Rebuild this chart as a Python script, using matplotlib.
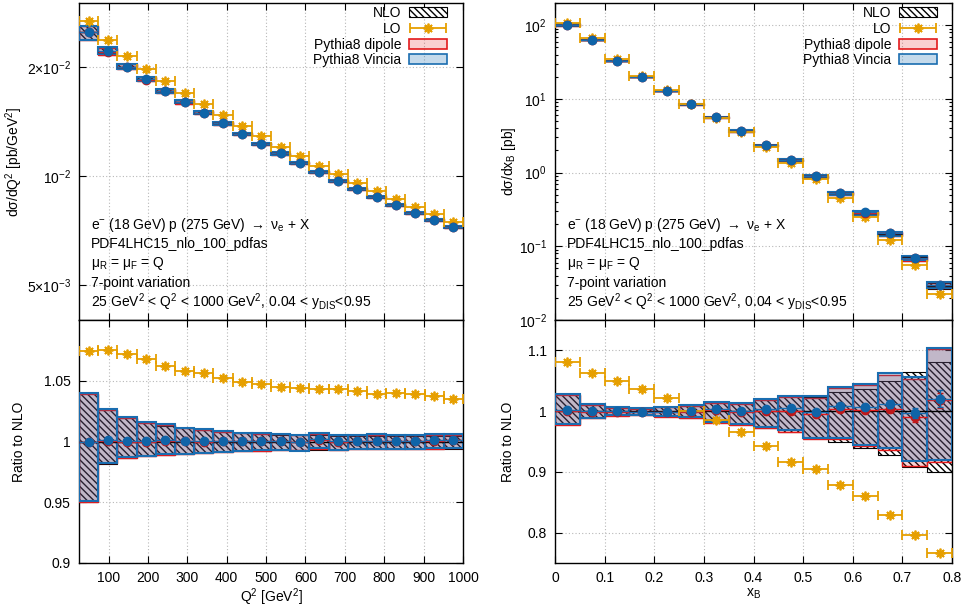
import numpy as np
import matplotlib
matplotlib.use('Agg')
import matplotlib.pyplot as plt
from matplotlib.patches import Patch
from matplotlib.colors import to_rgba
from matplotlib.legend_handler import HandlerErrorbar
from matplotlib.ticker import FixedLocator, FixedFormatter, NullLocator, LogLocator, NullFormatter

plt.rcParams['font.family'] = ['Liberation Sans', 'DejaVu Sans']
plt.rcParams['font.size'] = 10
plt.rcParams['mathtext.fontset'] = 'custom'
plt.rcParams['mathtext.rm'] = 'Liberation Sans'
plt.rcParams['mathtext.it'] = 'Liberation Sans:italic'
plt.rcParams['mathtext.default'] = 'regular'
plt.rcParams['hatch.linewidth'] = 1.0

# ---- Q^2 distribution (20 bins, 25..1000 GeV^2) ----
q2_edges = np.linspace(25, 1000, 21)
nlo_q2 = np.array([0.02490, 0.02202, 0.02000, 0.01845, 0.01716, 0.01600, 0.01491, 0.01396,
                   0.01307, 0.01227, 0.01153, 0.01086, 0.01023, 0.00970, 0.00920, 0.00873,
                   0.00831, 0.00791, 0.00755, 0.00722])
nlo_hi_q2 = np.array([1.040, 1.026, 1.0195, 1.0155, 1.013, 1.011, 1.0098, 1.0080, 1.0068, 1.0062,
                      1.0056, 1.0052, 1.0050, 1.0049, 1.0048, 1.0047, 1.0046, 1.0045, 1.0045, 1.0044])
nlo_lo_q2 = np.array([0.950, 0.9815, 0.9865, 0.9880, 0.9888, 0.9897, 0.9905, 0.9912, 0.9918, 0.9924,
                      0.9928, 0.9930, 0.9932, 0.9934, 0.9936, 0.9937, 0.9938, 0.9939, 0.9940, 0.9940])
lo_q2 = np.array([1.0744, 1.0752, 1.0717, 1.0676, 1.0621, 1.0582, 1.0561, 1.0520, 1.0492, 1.0471,
                  1.0449, 1.0440, 1.0434, 1.0432, 1.0413, 1.0389, 1.0397, 1.0389, 1.0377, 1.0348])
vin_q2 = np.array([1.000, 1.001, 1.0005, 1.0002, 1.001, 1.0006, 1.0004, 1.0008, 1.0008, 1.0005,
                   1.0008, 0.9995, 1.0022, 1.0002, 1.0005, 1.0008, 1.0008, 1.0004, 1.0012, 1.0016])
vin_hi_q2 = np.array([1.040, 1.027, 1.020, 1.016, 1.014, 1.0115, 1.010, 1.0085, 1.0072, 1.0068,
                      1.0062, 1.0050, 1.0072, 1.0052, 1.0056, 1.0058, 1.0056, 1.0052, 1.0060, 1.0064])
vin_lo_q2 = np.array([0.951, 0.9825, 0.987, 0.988, 0.9895, 0.990, 0.9908, 0.9915, 0.992, 0.9926,
                      0.993, 0.9925, 0.9945, 0.993, 0.9935, 0.994, 0.994, 0.9938, 0.9945, 0.995])
dip_q2 = np.array([1.000, 1.0005, 1.000, 0.9998, 1.0005, 1.0002, 1.000, 1.0004, 1.0005, 1.0002,
                   1.0006, 0.9998, 1.001, 1.000, 1.0003, 1.0005, 1.0005, 1.0002, 1.0008, 1.001])
dip_hi_q2 = np.array([1.0395, 1.0262, 1.0196, 1.0155, 1.0132, 1.0111, 1.0098, 1.0082, 1.007, 1.0063,
                      1.0058, 1.0052, 1.006, 1.005, 1.0052, 1.0053, 1.0052, 1.005, 1.0055, 1.0056])
dip_lo_q2 = np.array([0.9505, 0.982, 0.9866, 0.9879, 0.989, 0.9898, 0.9905, 0.9914, 0.992, 0.9925,
                      0.993, 0.9928, 0.994, 0.9932, 0.9936, 0.9938, 0.9939, 0.9938, 0.9942, 0.9945])
vin_err_q2 = np.full(20, 0.0006)
dip_err_q2 = np.full(20, 0.0006)

# ---- x_B distribution (16 bins, 0..0.8) ----
xb_edges = np.linspace(0.0, 0.8, 17)
nlo_xb = np.array([100, 63.2, 32.9, 20.0, 12.9, 8.43, 5.62, 3.68, 2.35, 1.47, 0.893, 0.522,
                   0.286, 0.149, 0.0705, 0.0293])
nlo_hi_xb = np.array([1.028, 1.010, 1.0055, 1.005, 1.0065, 1.008, 1.014, 1.013, 1.019, 1.025,
                      1.0235, 1.031, 1.0365, 1.049, 1.0636, 1.081])
nlo_lo_xb = np.array([0.978, 0.9886, 0.993, 0.994, 0.9915, 0.989, 0.982, 0.978, 0.973, 0.9658,
                      0.955, 0.949, 0.9386, 0.9277, 0.908, 0.9005])
lo_xb = np.array([1.0816, 1.062, 1.049, 1.0365, 1.0218, 1.001, 0.985, 0.9653, 0.9424, 0.9168,
                  0.9054, 0.8783, 0.8603, 0.8282, 0.7961, 0.7667])
vin_xb = np.array([1.002, 1.000, 1.000, 0.999, 0.998, 1.000, 1.004, 1.000, 1.004, 1.005,
                   0.998, 1.008, 1.006, 1.012, 0.997, 1.020])
vin_hi_xb = np.array([1.029, 1.011, 1.006, 1.005, 1.0065, 1.0093, 1.0147, 1.0137, 1.020, 1.0256,
                      1.0245, 1.040, 1.0447, 1.062, 1.0555, 1.104])
vin_lo_xb = np.array([0.978, 0.989, 0.993, 0.994, 0.992, 0.990, 0.982, 0.978, 0.974, 0.9696,
                      0.956, 0.956, 0.944, 0.9386, 0.918, 0.9196])
dip_xb = np.array([1.000, 0.999, 0.999, 0.999, 0.998, 0.999, 1.002, 0.999, 1.000, 1.000,
                   0.996, 1.0035, 1.002, 1.004, 0.991, 1.0175])
dip_hi_xb = np.array([1.027, 1.010, 1.005, 1.004, 1.006, 1.009, 1.013, 1.012, 1.018, 1.023,
                      1.022, 1.038, 1.043, 1.060, 1.053, 1.102])
dip_lo_xb = np.array([0.977, 0.988, 0.992, 0.993, 0.991, 0.989, 0.981, 0.977, 0.972, 0.966,
                      0.954, 0.954, 0.942, 0.936, 0.9098, 0.917])
vin_err_xb = np.array([0.001, 0.001, 0.001, 0.001, 0.001, 0.001, 0.001, 0.001, 0.001, 0.002,
                       0.002, 0.003, 0.004, 0.007, 0.008, 0.014])
dip_err_xb = np.array([0.001, 0.001, 0.001, 0.001, 0.001, 0.001, 0.001, 0.001, 0.001, 0.002,
                       0.002, 0.003, 0.004, 0.006, 0.009, 0.012])

info_lines = [r"e$^{-}$ (18 GeV) p (275 GeV) $\rightarrow$ ν$_e$ + X",
              "PDF4LHC15_nlo_100_pdfas",
              r"μ$_R$ = μ$_F$ = Q",
              "7-point variation",
              r"25 GeV$^2$ < Q$^2$ < 1000 GeV$^2$, 0.04 < y$_{DIS}$<0.95"]

RED = '#e31a1c'
BLUE = '#1a6db0'
PTBLUE = '#0f64a8'
ORANGE = '#e69f00'
HATCH = '\\' * 5


def draw(ax, edges, base, d):
    left = edges[:-1]
    w = np.diff(edges)
    xc = left + w / 2
    right = edges[1:]
    # NLO hatched scale band
    ax.bar(left, base * (d['nlo_hi'] - d['nlo_lo']), bottom=base * d['nlo_lo'], width=w,
           align='edge', facecolor='none', edgecolor='black', hatch=HATCH, lw=0.8, zorder=2)
    # Pythia bands
    ax.bar(left, base * (d['dip_hi'] - d['dip_lo']), bottom=base * d['dip_lo'], width=w,
           align='edge', facecolor=to_rgba(RED, 0.2), edgecolor=RED, lw=1.0, zorder=3)
    ax.bar(left, base * (d['vin_hi'] - d['vin_lo']), bottom=base * d['vin_lo'], width=w,
           align='edge', facecolor=to_rgba(BLUE, 0.25), edgecolor=BLUE, lw=1.5, zorder=4)
    ax.hlines(base, left, right, color='black', lw=1.0, zorder=5)
    ax.hlines(base * d['dip'], left, right, color=RED, lw=1.0, zorder=5)
    ax.hlines(base * d['vin'], left, right, color=BLUE, lw=1.0, zorder=5)
    lo = ax.errorbar(xc, base * d['lo'], xerr=w / 2, linestyle='none', marker=(8, 2, 0), ms=7,
                     mew=1.3, color=ORANGE, ecolor=ORANGE, elinewidth=1.3, capsize=3.5, zorder=6)
    ax.errorbar(xc, base * d['dip'], yerr=base * d['dip_err'], fmt='o', ms=6, color='#c0181a',
                elinewidth=1.0, capsize=2.5, zorder=7)
    ax.errorbar(xc, base * d['vin'], yerr=base * d['vin_err'], fmt='o', ms=6, color=PTBLUE,
                elinewidth=1.0, capsize=2.5, zorder=8)
    return lo


def style(ax):
    ax.set_axisbelow(True)
    ax.grid(True, which='major', color='#b8b8b8', linestyle=(0, (1, 2)), linewidth=0.8)
    ax.tick_params(which='both', direction='in', top=True, right=True, width=0.8)
    ax.tick_params(which='major', length=5, pad=6)
    ax.tick_params(which='minor', length=2.5)
    for s in ax.spines.values():
        s.set_linewidth(1.0)


fig = plt.figure(figsize=(9.67, 6.08), dpi=100)
ax_tl = fig.add_axes([79 / 967, 288 / 608, 384 / 967, 317 / 608])
ax_bl = fig.add_axes([79 / 967, 45 / 608, 384 / 967, 243 / 608])
ax_tr = fig.add_axes([555 / 967, 288 / 608, 397 / 967, 317 / 608])
ax_br = fig.add_axes([555 / 967, 45 / 608, 397 / 967, 243 / 608])

q2 = dict(nlo_hi=nlo_hi_q2, nlo_lo=nlo_lo_q2, lo=lo_q2, vin=vin_q2, vin_hi=vin_hi_q2,
          vin_lo=vin_lo_q2, dip=dip_q2, dip_hi=dip_hi_q2, dip_lo=dip_lo_q2,
          vin_err=vin_err_q2, dip_err=dip_err_q2)
xb = dict(nlo_hi=nlo_hi_xb, nlo_lo=nlo_lo_xb, lo=lo_xb, vin=vin_xb, vin_hi=vin_hi_xb,
          vin_lo=vin_lo_xb, dip=dip_xb, dip_hi=dip_hi_xb, dip_lo=dip_lo_xb,
          vin_err=vin_err_xb, dip_err=dip_err_xb)

lo_tl = draw(ax_tl, q2_edges, nlo_q2, q2)
draw(ax_bl, q2_edges, np.ones(20), q2)
lo_tr = draw(ax_tr, xb_edges, nlo_xb, xb)
draw(ax_br, xb_edges, np.ones(16), xb)

for ax in (ax_tl, ax_bl, ax_tr, ax_br):
    style(ax)

# Q^2 panels
for ax in (ax_tl, ax_bl):
    ax.set_xlim(25, 1000)
    ax.xaxis.set_major_locator(FixedLocator(np.arange(100, 1001, 100)))
ax_tl.set_yscale('log')
ax_tl.set_ylim(4e-3, 3e-2)
ax_tl.yaxis.set_major_locator(FixedLocator([5e-3, 1e-2, 2e-2]))
ax_tl.yaxis.set_major_formatter(FixedFormatter([r"5×10$^{-3}$", r"10$^{-2}$", r"2×10$^{-2}$"]))
ax_tl.yaxis.set_minor_locator(NullLocator())
ax_tl.tick_params(labelbottom=False)
ax_tl.set_ylabel(r"dσ/dQ$^2$ [pb/GeV$^2$]")
ax_tl.yaxis.set_label_coords(-0.141, 0.5)

ax_bl.set_ylim(0.9, 1.1)
ax_bl.yaxis.set_major_locator(FixedLocator([0.9, 0.95, 1.0, 1.05]))
ax_bl.yaxis.set_major_formatter(FixedFormatter(["0.9", "0.95", "1", "1.05"]))
ax_bl.set_ylabel("Ratio to NLO")
ax_bl.yaxis.set_label_coords(-0.137, 0.5)
ax_bl.set_xlabel(r"Q$^2$ [GeV$^2$]", labelpad=1)

# x_B panels
for ax in (ax_tr, ax_br):
    ax.set_xlim(0, 0.8)
    ax.xaxis.set_major_locator(FixedLocator(np.arange(0, 0.81, 0.1)))
ax_tr.set_yscale('log')
ax_tr.set_ylim(1e-2, 2e2)
ax_tr.yaxis.set_major_locator(FixedLocator([1e-2, 1e-1, 1e0, 1e1, 1e2]))
ax_tr.yaxis.set_major_formatter(FixedFormatter([r"10$^{-2}$", r"10$^{-1}$", r"10$^{0}$",
                                                r"10$^{1}$", r"10$^{2}$"]))
ax_tr.yaxis.set_minor_locator(LogLocator(base=10, subs=np.arange(2, 10), numticks=20))
ax_tr.yaxis.set_minor_formatter(NullFormatter())
ax_tr.tick_params(labelbottom=False)
ax_tr.set_ylabel(r"dσ/dx$_B$ [pb]")
ax_tr.yaxis.set_label_coords(-0.093, 0.5)

ax_br.set_ylim(0.75, 1.15)
ax_br.yaxis.set_major_locator(FixedLocator([0.8, 0.9, 1.0, 1.1]))
ax_br.yaxis.set_major_formatter(FixedFormatter(["0.8", "0.9", "1", "1.1"]))
ax_br.xaxis.set_major_formatter(FixedFormatter(["0", "0.1", "0.2", "0.3", "0.4", "0.5",
                                                "0.6", "0.7", "0.8"]))
ax_br.set_ylabel("Ratio to NLO")
ax_br.yaxis.set_label_coords(-0.0995, 0.5)
ax_br.set_xlabel(r"x$_B$", labelpad=1)

# info text
ys = [0.30, 0.24, 0.177, 0.117, 0.057]
for ax in (ax_tl, ax_tr):
    for yy, t in zip(ys, info_lines):
        ax.text(0.031, yy, t, transform=ax.transAxes, ha='left', va='center', zorder=10)

# legends
h_nlo = Patch(facecolor='white', edgecolor='black', hatch=HATCH, lw=0.8)
h_dip = Patch(facecolor=to_rgba(RED, 0.2), edgecolor=RED, lw=1.2)
h_vin = Patch(facecolor=to_rgba(BLUE, 0.25), edgecolor=BLUE, lw=1.2)
labels = ["NLO", "LO", "Pythia8 dipole", "Pythia8 Vincia"]
for ax, lo_h, xr in ((ax_tl, lo_tl, 0.958), (ax_tr, lo_tr, 0.962)):
    ax.legend([h_nlo, lo_h, h_dip, h_vin], labels, loc='upper right',
              bbox_to_anchor=(xr, 0.99), borderaxespad=0, borderpad=0, frameon=False,
              markerfirst=False, handlelength=2.7, handletextpad=0.6, labelspacing=0.12,
              handler_map={lo_h: HandlerErrorbar(xerr_size=1.3)})

fig.savefig('out.png', dpi=100)
